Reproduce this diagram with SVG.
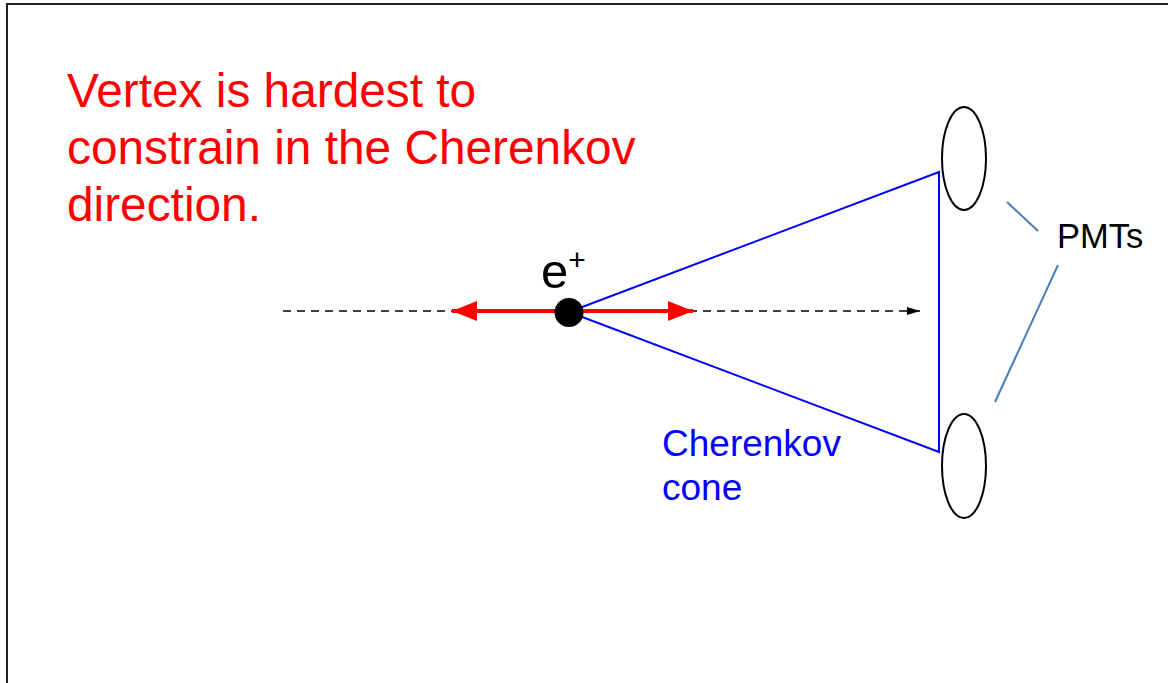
<svg xmlns="http://www.w3.org/2000/svg" width="1168" height="683" viewBox="0 0 1168 683">
<style>
.red{font-family:"Liberation Sans",Arial,sans-serif;font-size:47.8px;fill:#ff0000}
.blue{font-family:"Liberation Sans",Arial,sans-serif;font-size:37px;fill:#0000ff}
.blk{font-family:"Liberation Sans",Arial,sans-serif;fill:#000}
.cone{stroke:#0000ff;stroke-width:2;fill:none}
.pmt{fill:#fff;stroke:#000;stroke-width:2}
.lead{stroke:#4a7ebb;stroke-width:2}
</style>
<defs>
<marker id="redHead" markerWidth="25" markerHeight="20" refX="25" refY="10" orient="auto" markerUnits="userSpaceOnUse">
<path d="M0,0 L25,10 L0,20 Z" fill="#ff0000"/>
</marker>
<marker id="smallHead" markerWidth="13" markerHeight="8" refX="13" refY="4" orient="auto" markerUnits="userSpaceOnUse">
<path d="M0,0 L13,4 L0,8 Z" fill="#000"/>
</marker>
</defs>
<rect x="0" y="0" width="1168" height="683" fill="#fff"/>
<rect x="7" y="4" width="1180" height="700" fill="none" stroke="#222" stroke-width="2"/>

<g id="title">
<text class="red" x="67" y="107">Vertex is hardest to</text>
<text class="red" x="67" y="164">constrain in the Cherenkov</text>
<text class="red" x="67" y="221">direction.</text>
</g>

<g id="connectors">
<line x1="283" y1="311" x2="920" y2="311" stroke="#000" stroke-width="1.5" stroke-dasharray="8,6" marker-end="url(#smallHead)"/>
<line x1="569" y1="311" x2="452" y2="311" stroke="#ff0000" stroke-width="4" marker-end="url(#redHead)"/>
<line x1="569" y1="311" x2="693" y2="311" stroke="#ff0000" stroke-width="4" marker-end="url(#redHead)"/>
<polyline class="cone" points="569,312 939,172 939,452 569,312"/>
<line class="lead" x1="1007" y1="202" x2="1038" y2="231"/>
<line class="lead" x1="1058" y1="265" x2="995" y2="402"/>
</g>

<g id="positron">
<circle cx="569" cy="312.5" r="14.5" fill="#000"/>
<text class="blk" x="541" y="288" font-size="49">e<tspan font-size="30" dy="-18">+</tspan></text>
</g>

<g id="pmt-top">
<ellipse class="pmt" cx="964" cy="158.5" rx="22" ry="51.5"/>
</g>
<g id="pmt-bottom">
<ellipse class="pmt" cx="964" cy="466" rx="22" ry="52"/>
</g>

<g id="pmts-label">
<text class="blk" x="1057" y="248" font-size="34.5">PMTs</text>
</g>

<g id="cone-label">
<text class="blue" x="662" y="456">Cherenkov</text>
<text class="blue" x="662" y="500">cone</text>
</g>
</svg>
